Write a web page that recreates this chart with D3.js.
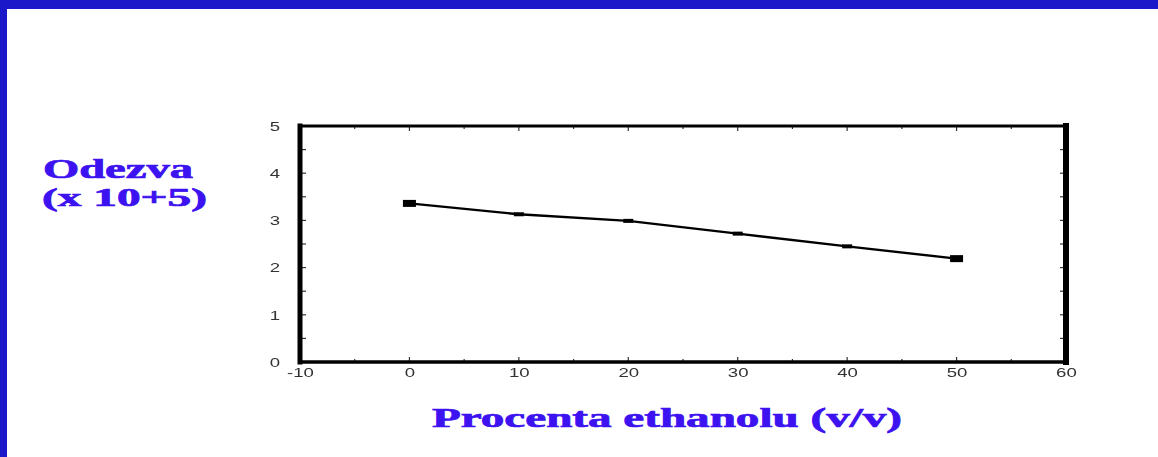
<!DOCTYPE html>
<html>
<head>
<meta charset="utf-8">
<script src="https://cdn.jsdelivr.net/npm/d3@7/dist/d3.min.js"></script>
<style>
  html, body { margin: 0; padding: 0; background: #fff; }
  svg { display: block; }
  .tick-label {
    font-family: "Liberation Sans", Arial, sans-serif;
    font-size: 12px;
    fill: #333;
    transform-box: fill-box;
    transform-origin: center;
    transform: scaleX(1.55);
  }
  .title {
    font-family: "Liberation Serif", "Times New Roman", serif;
    font-weight: bold;
    fill: #3d12f0;
    stroke: #3d12f0;
    stroke-width: 0.7px;
  }
</style>
</head>
<body>
<svg id="chart" width="1158" height="457"></svg>
<script>
// Ethanol percentage (v/v) and detector response (x 10^5)
const ethanolPct = [0, 10, 20, 30, 40, 50];
const response = [3.36, 3.13, 2.99, 2.72, 2.45, 2.19];

const xTicks = [-10, 0, 10, 20, 30, 40, 50, 60];
const yTicks = [0, 1, 2, 3, 4, 5];

const yTitleLines = ["Odezva", "(x 10+5)"];
const xTitle = "Procenta ethanolu (v/v)";

const svg = d3.select("#chart");
const W = 1158, H = 457;

// slide background and blue frame
svg.append("rect").attr("width", W).attr("height", H).attr("fill", "#fff");
svg.append("rect").attr("x", 0).attr("y", 0).attr("width", W).attr("height", 9).attr("fill", "#1b18c9");
svg.append("rect").attr("x", 0).attr("y", 0).attr("width", 7).attr("height", H).attr("fill", "#1b18c9");

const plot = { left: 300, right: 1066, top: 126, bottom: 362 };

const x = d3.scaleLinear().domain([-10, 60]).range([plot.left, plot.right]);
const y = d3.scaleLinear().domain([0, 5]).range([plot.bottom, plot.top]);

const soft = svg.append("defs").append("filter").attr("id", "soft")
  .attr("x", "-20%").attr("y", "-20%").attr("width", "140%").attr("height", "140%");
soft.append("feGaussianBlur").attr("stdDeviation", 0.45);

// inner tick marks on all four sides
const minorX = d3.range(-10, 60.001, 5);
const minorY = d3.range(0, 5.001, 0.5);
const tickG = svg.append("g").attr("stroke", "#333").attr("stroke-width", 1.2).attr("filter", "url(#soft)");

tickG.selectAll(".tb").data(minorX).join("line")
  .attr("x1", d => x(d)).attr("x2", d => x(d))
  .attr("y1", plot.bottom).attr("y2", d => plot.bottom - (d % 10 === 0 ? 5 : 3));
tickG.selectAll(".tt").data(minorX).join("line")
  .attr("x1", d => x(d)).attr("x2", d => x(d))
  .attr("y1", plot.top).attr("y2", d => plot.top + (d % 10 === 0 ? 5 : 3));
tickG.selectAll(".tl").data(minorY).join("line")
  .attr("y1", d => y(d)).attr("y2", d => y(d))
  .attr("x1", plot.left).attr("x2", plot.left + 6);
tickG.selectAll(".tr").data(minorY).join("line")
  .attr("y1", d => y(d)).attr("y2", d => y(d))
  .attr("x1", plot.right).attr("x2", plot.right - 6);

// tick labels via d3 axes (plain hyphen for negatives)
const fmt = d => String(d);
const xAxis = d3.axisBottom(x).tickValues(xTicks).tickSize(0).tickPadding(0).tickFormat(fmt);
const yAxis = d3.axisLeft(y).tickValues(yTicks).tickSize(0).tickPadding(0).tickFormat(fmt);

const gx = svg.append("g").attr("transform", `translate(0,${plot.bottom})`).call(xAxis);
gx.select(".domain").remove();
gx.selectAll("text").attr("class", "tick-label").attr("dy", "0.35em").attr("y", 11)
  .attr("filter", "url(#soft)");

const gy = svg.append("g").attr("transform", `translate(${plot.left},0)`).call(yAxis);
gy.select(".domain").remove();
gy.selectAll("text").attr("class", "tick-label").attr("x", -25).attr("text-anchor", "middle")
  .attr("dy", "0.35em").attr("filter", "url(#soft)");

// plot frame
const frame = svg.append("g").attr("stroke", "#000").attr("stroke-linecap", "square");
frame.append("line").attr("x1", x(-10)).attr("x2", x(60)).attr("y1", y(5)).attr("y2", y(5)).attr("stroke-width", 3);
frame.append("line").attr("x1", x(-10)).attr("x2", x(60)).attr("y1", y(0)).attr("y2", y(0)).attr("stroke-width", 3.5);
frame.append("line").attr("x1", x(-10)).attr("x2", x(-10)).attr("y1", y(0)).attr("y2", y(5)).attr("stroke-width", 5);
frame.append("line").attr("x1", x(60)).attr("x2", x(60)).attr("y1", y(0)).attr("y2", y(5)).attr("stroke-width", 6);

// response series
const pts = ethanolPct.map((e, i) => [e, response[i]]);
svg.append("path").datum(pts)
  .attr("fill", "none").attr("stroke", "#000").attr("stroke-width", 2.4)
  .attr("d", d3.line().x(d => x(d[0])).y(d => y(d[1])));

const isEnd = i => i === 0 || i === pts.length - 1;
svg.selectAll(".marker").data(pts).join("rect")
  .attr("class", "marker")
  .attr("fill", "#000")
  .attr("width", (d, i) => isEnd(i) ? 13 : 10)
  .attr("height", (d, i) => isEnd(i) ? 7 : 4)
  .attr("x", (d, i) => x(d[0]) - (isEnd(i) ? 6.5 : 5))
  .attr("y", (d, i) => y(d[1]) - (isEnd(i) ? 3.5 : 2));

// axis titles
svg.append("text").attr("class", "title")
  .attr("x", 43).attr("y", 178).attr("font-size", 27)
  .attr("textLength", 150).attr("lengthAdjust", "spacingAndGlyphs")
  .text(yTitleLines[0]);
svg.append("text").attr("class", "title")
  .attr("x", 42).attr("y", 206).attr("font-size", 25)
  .attr("textLength", 165).attr("lengthAdjust", "spacingAndGlyphs")
  .text(yTitleLines[1]);
svg.append("text").attr("class", "title")
  .attr("x", 432).attr("y", 427).attr("font-size", 27)
  .attr("textLength", 470).attr("lengthAdjust", "spacingAndGlyphs")
  .text(xTitle);
</script>
</body>
</html>
